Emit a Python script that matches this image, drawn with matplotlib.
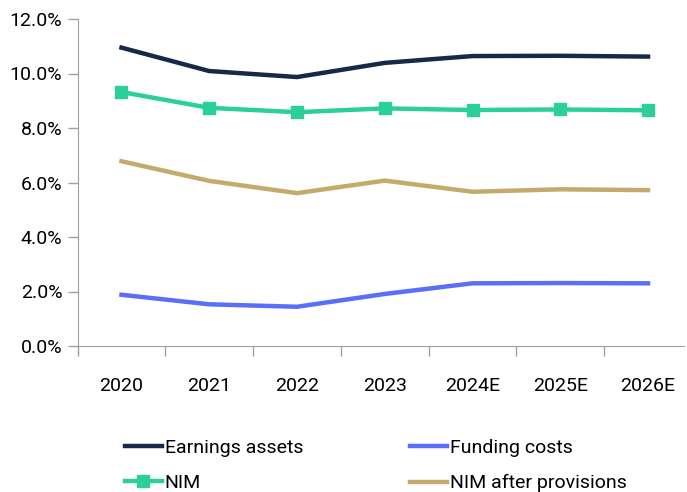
import numpy as np
import matplotlib.pyplot as plt
from matplotlib.ticker import FuncFormatter

years = ['2020', '2021', '2022', '2023', '2024E', '2025E', '2026E']
earnings_assets = [10.95, 10.09, 9.87, 10.39, 10.64, 10.65, 10.62]
nim = [9.32, 8.74, 8.58, 8.72, 8.66, 8.68, 8.65]
nim_after_prov = [6.78, 6.06, 5.61, 6.07, 5.66, 5.75, 5.72]
funding_costs = [1.88, 1.53, 1.44, 1.91, 2.30, 2.31, 2.30]

plt.rcParams['font.family'] = ['Roboto', 'DejaVu Sans']

fig = plt.figure(figsize=(6.87, 4.92), dpi=100)
ax = fig.add_axes([77.6 / 687, 1 - 346 / 492, (684 - 77.6) / 687, (346 - 19) / 492])

x = np.arange(len(years))
l_ea, = ax.plot(x, earnings_assets, color='#172848', lw=3.2, label='Earnings assets')
l_fc, = ax.plot(x, funding_costs, color='#5a6ff7', lw=3.2, label='Funding costs')
l_nim, = ax.plot(x, nim, color='#2bcf98', lw=3.2, marker='s', markersize=9, label='NIM')
l_nap, = ax.plot(x, nim_after_prov, color='#c4aa6c', lw=3.2, label='NIM after provisions')

ax.set_ylim(0, 12)
ax.set_yticks(np.arange(0, 12.1, 2))
ax.yaxis.set_major_formatter(FuncFormatter(lambda v, p: '%.1f%%' % v))
ax.set_xlim(-0.5, 6.41)
ax.set_xticks(x)
ax.set_xticklabels(years)
ax.set_xticks(np.arange(-0.5, 6.0, 1.0), minor=True)
ax.tick_params(axis='x', which='major', length=0, pad=22, labelsize=14)
ax.tick_params(axis='x', which='minor', length=7, color='#a0a0a0', width=1)
ax.tick_params(axis='y', length=7, color='#a0a0a0', width=1, labelsize=14, pad=4)

for s in ['top', 'right']:
    ax.spines[s].set_visible(False)
for s in ['left', 'bottom']:
    ax.spines[s].set_color('#a0a0a0')

# column-wise fill: EA / NIM in first column, FC / NIM after in second
ax.legend([l_ea, l_nim, l_fc, l_nap],
          ['Earnings assets', 'NIM', 'Funding costs', 'NIM after provisions'],
          loc='upper left', bbox_to_anchor=(0.065, -0.26), ncol=2, frameon=False,
          fontsize=14, handlelength=1.9, handletextpad=0.15, columnspacing=5.5,
          labelspacing=0.9, borderaxespad=0)

fig.savefig('out.png', dpi=100)
